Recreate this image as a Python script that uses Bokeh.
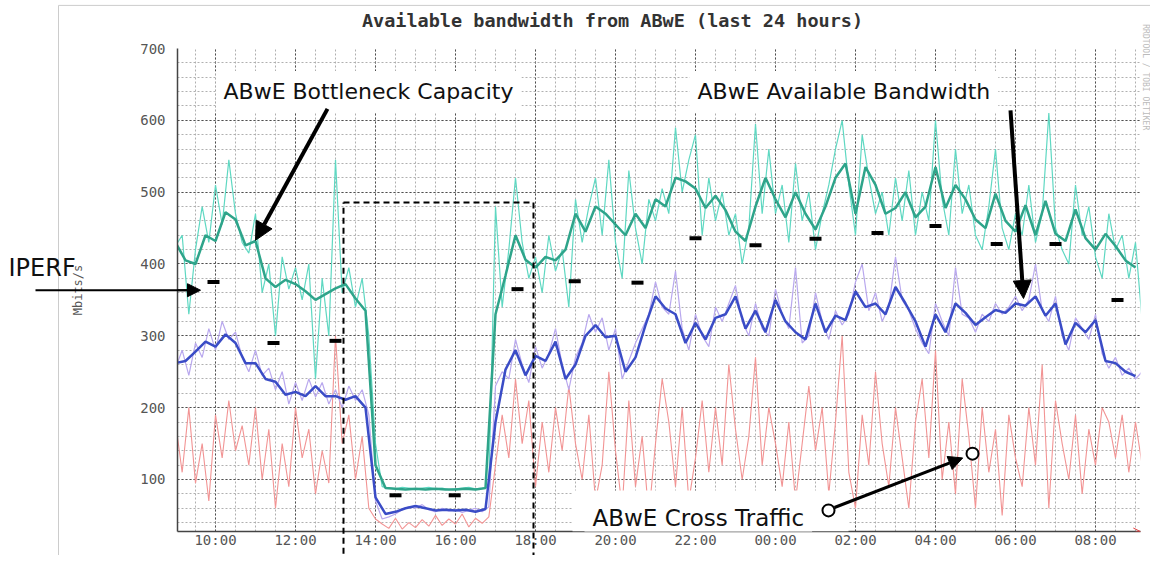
import numpy as np
from bokeh.plotting import figure
from bokeh.models import FixedTicker, Label, Arrow, NormalHead, OpenHead, Range1d, BoxAnnotation
from bokeh.core.properties import value
from bokeh.embed import file_html
from bokeh.resources import INLINE

# ---------------- data (hours of day; values in Mbits/s) ----------------
START_HOUR = 9.0
RAW_STEP_MIN = 10     # raw samples every 10 minutes
AVG_STEP_MIN = 15     # averaged curves every 15 minutes

cap_raw = [425, 440, 330, 420, 480, 430, 510, 455, 545, 470,
           430, 415, 470, 360, 400, 300, 410, 365, 395, 350,
           400, 240, 380, 300, 545, 360, 395, 340, 380, 300,
           150, 90, 88, 87, 89, 88, 87, 88, 89, 87,
           88, 86, 87, 88, 89, 87, 88, 90, 480, 340,
           420, 520, 430, 380, 410, 360, 440, 390, 420, 340,
           490, 430, 480, 520, 440, 545, 430, 380, 530, 450,
           400, 490, 460, 505, 470, 590, 500, 545, 580, 440,
           520, 460, 500, 440, 470, 400, 450, 595, 470, 560,
           470, 510, 430, 540, 460, 500, 420, 470, 510, 560,
           600, 510, 440, 580, 520, 470, 500, 440, 520, 460,
           530, 440, 500, 460, 600, 490, 440, 560, 470, 510,
           440, 420, 480, 560, 450, 420, 470, 440, 510, 430,
           470, 610, 450, 420, 400, 510, 440, 480, 410, 380,
           470, 420, 440, 380, 430, 320]

avail_raw = [255, 280, 245, 290, 270, 310, 280, 320, 295, 305,
             270, 250, 280, 245, 255, 225, 250, 205, 235, 210,
             240, 215, 235, 205, 225, 200, 230, 210, 225, 190,
             70, 45, 48, 52, 58, 62, 60, 65, 58, 55,
             60, 56, 58, 54, 57, 60, 55, 62, 230, 250,
             240, 295, 260, 235, 285, 255, 275, 310, 260, 225,
             270, 290, 330, 305, 325, 280, 310, 240, 265, 290,
             310, 330, 375, 340, 330, 390, 310, 280, 330, 300,
             285, 340, 320, 345, 370, 320, 300, 345, 310, 300,
             365, 330, 310, 395, 290, 300, 360, 320, 295, 335,
             315, 330, 375, 400, 335, 360, 320, 340, 410, 350,
             335, 310, 290, 275, 345, 320, 300, 395, 330, 325,
             305, 330, 320, 345, 330, 340, 355, 335, 350, 400,
             335, 320, 355, 300, 280, 325, 310, 295, 330, 275,
             255, 270, 245, 255, 240, 250]

cross_raw = [180, 110, 200, 95, 150, 70, 190, 130, 210, 140,
             175, 120, 200, 100, 170, 60, 150, 90, 200, 130,
             170, 80, 140, 95, 300, 150, 190, 100, 160, 60,
             45, 38, 32, 46, 31, 40, 33, 44, 35, 50,
             36, 45, 38, 52, 34, 46, 39, 48, 120, 190,
             130, 240, 150, 210, 90, 180, 110, 200, 140, 230,
             150, 100, 190, 70, 120, 250, 140, 60, 210, 90,
             160, 50, 150, 240, 180, 90, 200, 70, 130, 210,
             110, 200, 120, 260, 170, 100, 160, 270, 120, 200,
             150, 90, 180, 70, 150, 230, 140, 200, 80, 180,
             300, 110, 60, 190, 120, 250, 150, 90, 200, 130,
             60, 180, 240, 130, 280, 100, 180, 80, 240, 160,
             60, 200, 110, 170, 50, 190, 130, 90, 200, 120,
             260, 60, 210, 150, 100, 190, 80, 170, 120, 200,
             180, 130, 190, 110, 180, 120]

cap_avg = [430, 405, 400, 440, 432, 472, 462, 426, 432, 380,
           368, 378, 372, 362, 350, 358, 366, 372, 352, 335,
           120, 88, 87, 86, 87, 86, 87, 86, 86, 87,
           86, 88, 330, 384, 440, 406, 395, 410, 405, 420,
           470, 445, 480, 470, 455, 440, 470, 450, 490, 480,
           520, 515, 505, 478, 495, 475, 445, 432, 480, 520,
           490, 465, 500, 470, 448, 480, 520, 540, 470, 535,
           510, 470, 478, 500, 465, 480, 535, 478, 510, 490,
           462, 450, 498, 460, 445, 482, 440, 488, 442, 432,
           476, 436, 420, 442, 425, 405, 395]

avail_avg = [262, 265, 278, 292, 285, 302, 290, 262, 262, 240,
             236, 218, 222, 216, 230, 216, 216, 211, 216, 200,
             75, 52, 55, 60, 63, 60, 57, 58, 57, 58,
             55, 59, 180, 253, 280, 245, 272, 265, 292, 240,
             260, 300, 315, 298, 300, 250, 270, 315, 355, 338,
             330, 290, 318, 295, 325, 330, 355, 310, 335, 305,
             350, 320, 305, 295, 345, 305, 328, 322, 362, 340,
             345, 330, 368, 345, 320, 285, 330, 305, 345, 332,
             315, 326, 336, 332, 345, 342, 355, 328, 345, 288,
             318, 305, 322, 265, 262, 250, 244]

iperf_t = [9.95, 11.45, 13.0, 14.5, 15.98, 17.55, 18.98, 20.55,
           22.0, 23.5, 25.0, 26.55, 28.0, 29.53, 31.0, 32.55]
iperf_v = [375, 290, 293, 78, 78, 365, 376, 374,
           436, 426, 435, 443, 453, 428, 428, 350]

x_tick_values = [10, 12, 14, 16, 18, 20, 22, 24, 26, 28, 30, 32]
x_tick_labels = ["10:00", "12:00", "14:00", "16:00", "18:00", "20:00",
                 "22:00", "00:00", "02:00", "04:00", "06:00", "08:00"]
y_tick_values = [100, 200, 300, 400, 500, 600, 700]

t_raw = START_HOUR + np.arange(len(cap_raw)) * RAW_STEP_MIN / 60.0
t_avg = START_HOUR + np.arange(len(cap_avg)) * AVG_STEP_MIN / 60.0

# ---------------- figure ----------------
mono = "DejaVu Sans Mono"
sans = "DejaVu Sans"
Y_LOW = 27.6

p = figure(width=1150, height=555, output_backend="svg", toolbar_location=None,
           x_range=Range1d(9.05, 33.125), y_range=Range1d(Y_LOW, 700),
           min_border_left=177, min_border_right=10, min_border_top=48,
           min_border_bottom=24, background_fill_color="white",
           border_fill_color="white")
p.outline_line_color = None

p.xaxis.ticker = FixedTicker(ticks=x_tick_values,
                             minor_ticks=list(np.arange(9.5, 33.01, 0.5)))
p.xaxis.major_label_overrides = {float(v): l for v, l in zip(x_tick_values, x_tick_labels)}
p.yaxis.ticker = FixedTicker(ticks=y_tick_values,
                             minor_ticks=list(range(40, 701, 20)))
for ax in (p.xaxis, p.yaxis):
    ax.major_label_text_font = mono
    ax.major_label_text_font_size = "14px"
    ax.major_label_text_color = "#555555"
    ax.major_tick_in = 0
    ax.major_tick_out = 0
    ax.minor_tick_in = 0
    ax.minor_tick_out = 0
    ax.axis_line_color = "#444444"
    ax.axis_line_width = 1.5
p.xaxis.major_label_standoff = 0
p.yaxis.major_label_standoff = 12
p.yaxis.axis_label = "Mbits/s"
p.yaxis.axis_label_text_font = mono
p.yaxis.axis_label_text_font_style = "normal"
p.yaxis.axis_label_text_font_size = "12px"
p.yaxis.axis_label_text_color = "#555555"
p.yaxis.axis_label_standoff = 52

for g in (p.xgrid, p.ygrid):
    g.grid_line_color = "#444444"
    g.grid_line_dash = "2 2"
    g.grid_line_alpha = 0.9
    g.minor_grid_line_color = "#b0b0b0"
    g.minor_grid_line_dash = "2 2"

# ---------------- data marks ----------------
p.line(t_raw, cross_raw, line_color="#f29494", line_width=1.1)
p.line(t_raw, cap_raw, line_color="#5fd8c2", line_width=1.2)
p.line(t_raw, avail_raw, line_color="#b9a8ee", line_width=1.2)
p.line(t_avg, cap_avg, line_color="#2ea48a", line_width=2.5)
p.line(t_avg, avail_avg, line_color="#3a4cc6", line_width=2.5)
p.scatter(iperf_t, iperf_v, marker="dash", size=12, line_width=4,
          line_color="black")

# ---------------- decorations outside the data frame (overlay level) ----------------
p.segment(x0=[6.075, 6.075], y0=[760, 760], x1=[6.075, 33.6], y1=[-60, 760],
          line_color="#cccccc", line_width=1, level="overlay")
p.text(x=[19.925], y=[739], text=["Available bandwidth from ABwE (last 24 hours)"],
       text_font=value(mono), text_font_style="bold", text_font_size="18.5px",
       text_color="#333333", text_align="center", text_baseline="middle",
       level="overlay")
p.text(x=[4.825], y=[395], text=["IPERF"], text_font=value(sans),
       text_font_size="24px", text_color="#111111", text_baseline="middle",
       text_align="left", level="overlay")
p.text(x=[33.25], y=[660], text=["RRDTOOL / TOBI OETIKER"], angle=-np.pi / 2,
       text_font=value(mono), text_font_size="8px", text_color="#bbbbbb",
       text_align="center", text_baseline="middle", level="overlay")
# IPERF pointer shaft outside the frame
p.segment(x0=[5.5], y0=[363.5], x1=[9.3], y1=[363.5], line_color="black",
          line_width=2, level="overlay")

# dashed box around the 14:00-17:00 period
box_l, box_r, box_b, box_t = 13.2, 17.95, -45, 485.6
p.segment(x0=[box_l, box_l, box_r, box_r], y0=[box_b, box_t, box_t, box_b],
          x1=[box_l, box_r, box_r, box_l], y1=[box_t, box_t, box_b, box_b],
          line_color="black", line_width=2, line_dash="6 4", level="overlay")

# red rrdtool axis arrow
p.add_layout(Arrow(end=OpenHead(size=7, line_color="#e04040", line_width=1),
                   x_start=33.0, y_start=Y_LOW, x_end=33.12, y_end=Y_LOW,
                   line_color="#e04040", line_width=1))

# white panel behind the cross traffic caption
p.add_layout(BoxAnnotation(left=18.925, right=25.825, bottom=Y_LOW, top=84.7,
                           fill_color="white", fill_alpha=1.0, line_color=None))

label_kw = dict(text_font=sans, text_color="#111111", text_baseline="middle",
                background_fill_color="white", padding=8)
p.add_layout(Label(x=10.0, y=640, text="ABwE Bottleneck Capacity",
                   text_font_size="22px", **label_kw))
p.add_layout(Label(x=21.85, y=640, text="ABwE Available Bandwidth",
                   text_font_size="22px", **label_kw))
p.add_layout(Label(x=19.225, y=46, text="ABwE Cross Traffic",
                   text_font_size="23px", **label_kw))

arrows = [
    (12.8, 616, 11.0, 433, 4, 18),
    (29.875, 614, 30.2, 352, 4, 18),
    (9.06, 363.5, 9.625, 363.5, 2, 13),
    (25.475, 61, 28.68, 130, 3, 14),
]
for xs, ys, xe, ye, lw, hs in arrows:
    p.add_layout(Arrow(end=NormalHead(size=hs, fill_color="black", line_color="black"),
                       x_start=xs, y_start=ys, x_end=xe, y_end=ye,
                       line_color="black", line_width=lw))

# cross traffic pointer end circles (drawn above the white panel)
p.scatter([25.325, 28.925], [57, 136], marker="circle", size=12,
          fill_color="white", line_color="black", line_width=2, level="overlay")

open("out.html", "w").write(file_html(p, INLINE))
